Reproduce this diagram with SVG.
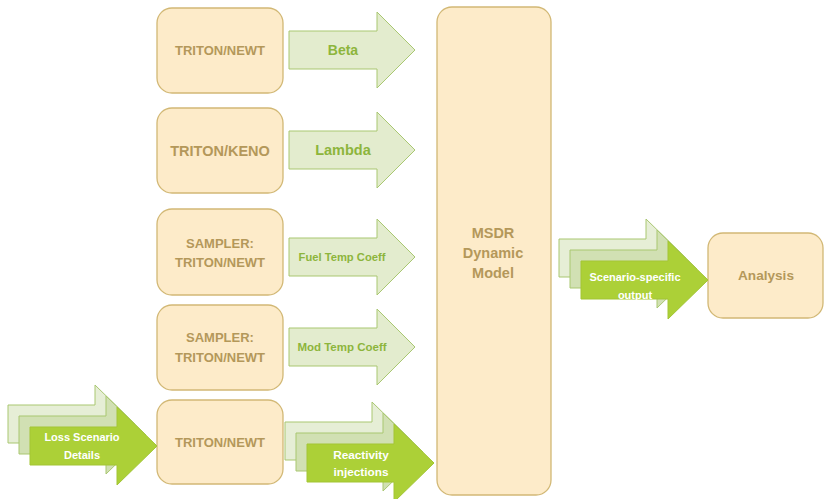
<svg xmlns="http://www.w3.org/2000/svg" xmlns:xlink="http://www.w3.org/1999/xlink" width="825" height="499" viewBox="0 0 825 499">
<style>
.box{fill:#fdebc9;stroke:#d2b875;stroke-width:1.3}
.bt{font-family:"Liberation Sans",Arial,sans-serif;font-weight:bold;fill:#b4985a;text-anchor:middle}
.arr{fill:#e3ecce;stroke:#a9c771;stroke-width:1}
.at{font-family:"Liberation Sans",Arial,sans-serif;font-weight:bold;fill:#8db53c;text-anchor:middle}
.s1{fill:#e6eed6;stroke:#a9c771;stroke-width:1}
.s2{fill:#d1e0b3;stroke:#a9c771;stroke-width:1}
.s3{fill:#acd037;stroke:#a3c535;stroke-width:1}
.wt{font-family:"Liberation Sans",Arial,sans-serif;font-weight:bold;fill:#ffffff;text-anchor:middle}
</style>
<defs>
<path id="sa" d="M0,-19 H87 V-39 L127,0 L87,39 V19 H0 Z"/>
</defs>
<rect width="825" height="499" fill="#ffffff"/>
<g id="n1"><rect class="box" x="157" y="8" width="126" height="85" rx="15"/><text class="bt" x="220" y="55" font-size="13">TRITON/NEWT</text></g>
<g id="n2"><rect class="box" x="157" y="108" width="126" height="85" rx="15"/><text class="bt" x="220" y="155.5" font-size="14.5">TRITON/KENO</text></g>
<g id="n3"><rect class="box" x="157" y="209" width="126" height="86" rx="15"/><text class="bt" x="220" y="247.5" font-size="13">SAMPLER:</text><text class="bt" x="220" y="266.5" font-size="13">TRITON/NEWT</text></g>
<g id="n4"><rect class="box" x="157" y="305" width="126" height="85" rx="15"/><text class="bt" x="220" y="341.5" font-size="13">SAMPLER:</text><text class="bt" x="220" y="361.5" font-size="13">TRITON/NEWT</text></g>
<g id="n5"><rect class="box" x="157" y="400" width="126" height="84" rx="15"/><text class="bt" x="220" y="447" font-size="13">TRITON/NEWT</text></g>
<g id="msdr"><rect class="box" x="437" y="7" width="114" height="488" rx="15"/><text class="bt" x="493" y="238" font-size="14.5">MSDR</text><text class="bt" x="493" y="258" font-size="14.5">Dynamic</text><text class="bt" x="493" y="278" font-size="14.5">Model</text></g>
<g id="analysis"><rect class="box" x="708" y="233" width="115" height="85" rx="15"/><text class="bt" x="766" y="280" font-size="13.6">Analysis</text></g>
<g id="connectors">
<g id="beta"><path class="arr" d="M289,31 H377 V12 L415,50 L377,88 V69 H289 Z"/><text class="at" x="343" y="55" font-size="14">Beta</text></g>
<g id="lambda"><path class="arr" d="M289,131 H377 V112 L415,150 L377,188 V169 H289 Z"/><text class="at" x="343" y="155" font-size="14.5">Lambda</text></g>
<g id="fuel"><path class="arr" d="M289,238 H377 V219 L415,257 L377,295 V276 H289 Z"/><text class="at" x="342" y="261" font-size="11.2">Fuel Temp Coeff</text></g>
<g id="mod"><path class="arr" d="M289,328 H377 V309 L415,347 L377,385 V366 H289 Z"/><text class="at" x="342" y="351" font-size="11.5">Mod Temp Coeff</text></g>
<g id="loss"><use xlink:href="#sa" class="s1" x="8" y="424"/><use xlink:href="#sa" class="s2" x="19" y="435"/><use xlink:href="#sa" class="s3" x="30" y="446"/><text class="wt" x="82" y="441" font-size="11">Loss Scenario</text><text class="wt" x="82" y="459" font-size="11">Details</text></g>
<g id="react"><use xlink:href="#sa" class="s1" x="285" y="441"/><use xlink:href="#sa" class="s2" x="296" y="452"/><use xlink:href="#sa" class="s3" x="307" y="463"/><text class="wt" x="361" y="459" font-size="11.8">Reactivity</text><text class="wt" x="361" y="476" font-size="11.8">injections</text></g>
<g id="scen"><use xlink:href="#sa" class="s1" x="559" y="258"/><use xlink:href="#sa" class="s2" x="570" y="269"/><use xlink:href="#sa" class="s3" x="581" y="280"/><text class="wt" x="635" y="281" font-size="11">Scenario-specific</text><text class="wt" x="635" y="299" font-size="11">output</text></g>
</g>
</svg>
